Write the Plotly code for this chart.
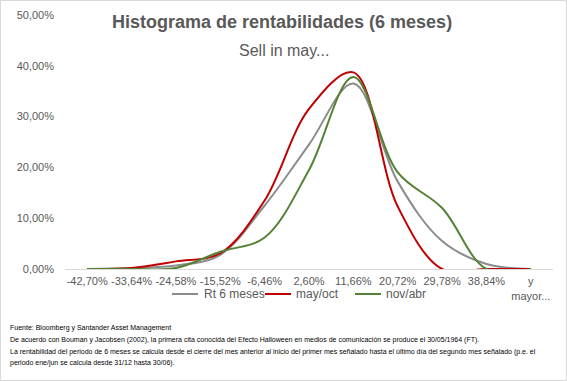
import plotly.graph_objects as go

categories = ["-42,70%", "-33,64%", "-24,58%", "-15,52%", "-6,46%", "2,60%",
              "11,66%", "20,72%", "29,78%", "38,84%", "y<br>mayor..."]
rt6 = [0.0, 0.2, 0.7, 2.8, 12.5, 24.5, 36.5, 17.2, 5.5, 1.0, 0.0]
may_oct = [0.0, 0.2, 1.5, 3.1, 13.5, 31.5, 38.7, 12.3, 0.0, 0.0, 0.0]
nov_abr = [0.0, 0.0, 0.2, 3.4, 6.2, 19.5, 37.8, 19.0, 12.0, 0.0, 0.0]
series_names = ["Rt 6 meses", "may/oct", "nov/abr"]

W, H = 567, 381
L, R, T, B = 65, 553, 15, 269

def px(x):
    return (x - L) / (R - L)

def py(y):
    return (B - y) / (B - T)

colors = ["#8c8c8c", "#c00000", "#548235"]
fig = go.Figure()
for name, vals, col in zip(series_names, [rt6, may_oct, nov_abr], colors):
    fig.add_trace(go.Scatter(
        x=categories, y=[v / 100 for v in vals], name=name, mode="lines",
        line=dict(color=col, width=2, shape="spline", smoothing=1.0),
        hoverinfo="skip"))

fig.update_layout(
    width=W, height=H,
    margin=dict(l=L, r=W - R, t=T, b=H - B, pad=0, autoexpand=False),
    paper_bgcolor="white", plot_bgcolor="white",
    separators=",.",
    font=dict(family="Liberation Sans, Arial, sans-serif", color="#595959", size=11),
    showlegend=False,
    xaxis=dict(type="category", range=[-0.5, 10.5], showgrid=False, zeroline=False,
               showline=True, linecolor="#d9d9d9", linewidth=1, ticks="", tickangle=0,
               automargin=False,
               tickfont=dict(size=11, color="#595959"), ticklabelstandoff=2),
    yaxis=dict(range=[0, 0.5], dtick=0.1, tickformat=".2%", showgrid=False,
               zeroline=False, showline=False, ticks="", automargin=False,
               tickfont=dict(size=11, color="#595959"), ticklabelstandoff=10),
)

base = "Liberation Sans, Arial, sans-serif"
annotations = [
    dict(text="<b>Histograma de rentabilidades (6 meses)</b>", x=px(282), y=py(22),
         font=dict(size=18, color="#595959", family=base)),
    dict(text="Sell in may...", x=px(284), y=py(51),
         font=dict(size=16, color="#595959", family=base)),
]
for a in annotations:
    a.update(xref="paper", yref="paper", showarrow=False, xanchor="center", yanchor="middle")

# manual legend
leg_items = [(172, 198, 202), (265, 291, 294), (355, 381, 384)]
shapes = []
for (x0, x1, xt), name, col in zip(leg_items, series_names, colors):
    shapes.append(dict(type="line", xref="paper", yref="paper", x0=px(x0), x1=px(x1),
                       y0=py(294), y1=py(294), line=dict(color=col, width=2)))
    annotations.append(dict(text=name, x=px(xt), y=py(294), xref="paper", yref="paper",
                            showarrow=False, xanchor="left", yanchor="middle",
                            font=dict(size=12, color="#595959")))

footer = [
    "Fuente: Bloomberg y Santander Asset Management",
    "De acuerdo con Bouman y Jacobsen (2002), la primera cita conocida del Efecto Halloween en medios de comunicación se produce el 30/05/1964 (FT).",
    "La rentabilidad del periodo de 6 meses se calcula desde el cierre del mes anterior al inicio del primer mes señalado hasta el último día del segundo mes señalado (p.e. el",
    "periodo ene/jun se calcula desde 31/12 hasta 30/06).",
]
ys = [328, 340, 352, 363]
for txt, yy in zip(footer, ys):
    annotations.append(dict(text=txt, x=px(8), y=py(yy), xref="paper", yref="paper",
                            showarrow=False, xanchor="left", yanchor="middle",
                            font=dict(size=7, color="#000000", family=base)))

shapes.append(dict(type="rect", xref="paper", yref="paper",
                   x0=px(0.5), x1=px(566.5), y0=py(380.5), y1=py(0.5),
                   line=dict(color="#d9d9d9", width=1), fillcolor="rgba(0,0,0,0)", layer="below"))
fig.update_layout(annotations=annotations, shapes=shapes)

fig.write_html("out.html", config={"displayModeBar": False},
               post_script="document.body.style.margin='0';document.body.style.overflow='hidden';")
